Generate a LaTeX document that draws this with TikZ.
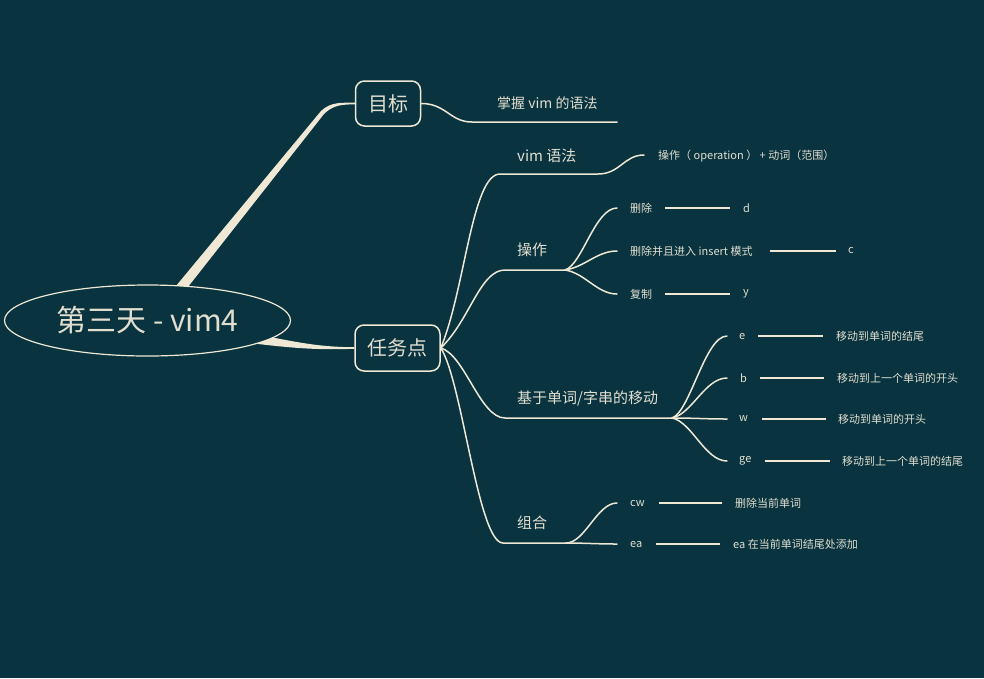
\documentclass[tikz,border=0pt]{standalone}
\usepackage{fontspec}
\setmainfont{Noto Sans CJK SC}
\usetikzlibrary{shapes.geometric,calc}
\pgfdeclarelayer{back}
\pgfsetlayers{back,main}
\definecolor{bgc}{HTML}{08333F}
\definecolor{lnc}{HTML}{EEE8D5}
\definecolor{txc}{HTML}{E2DFD0}
\begin{document}
\begin{tikzpicture}[x=1pt,y=-1pt,
  conn/.style={draw=lnc,line width=1.5pt,line cap=round},
  valline/.style={draw=lnc,line width=1.6pt},
  small/.style={text=txc,anchor=west,inner sep=0pt,font=\fontsize{11}{13}\selectfont},
  midl/.style={text=txc,anchor=west,inner sep=0pt,font=\fontsize{15}{17}\selectfont},
  topic/.style={draw=lnc,line width=1.5pt,rounded corners=9pt,fill=bgc,text=txc,font=\fontsize{20}{23}\selectfont,inner sep=0pt},
  rootn/.style={ellipse,draw=lnc,line width=1.2pt,fill=bgc,text=txc,font=\fontsize{30}{34}\selectfont,inner sep=0pt,minimum width=286pt,minimum height=71pt}]

\useasboundingbox (0,0) rectangle (984,678);

% main nodes
\node[rootn] (root) at (147.5,320.5) {第三天 - vim4};
\node[topic,minimum width=65pt,minimum height=45pt] (goal) at (388,103.5) {目标};
\node[topic,minimum width=85pt,minimum height=46pt] (task) at (397.5,348) {任务点};

% labels
\node[midl,font=\fontsize{14}{16}\selectfont] (goalt) at (497,103) {掌握 vim 的语法};
\node[midl] (vimt) at (517,156) {vim 语法};
\node[small] (vimd) at (658,156) {操作（ operation ） + 动词（范围）};
\node[midl] (opt) at (517,250) {操作};
\node[small] (d1) at (630,208) {删除};
\node[small] (d2) at (630,251) {删除并且进入 insert 模式};
\node[small] (d3) at (630,294) {复制};
\node[small] (v1) at (743,208) {d};
\node[small] (v2) at (848,251) {c};
\node[small] (v3) at (743,294) {y};
\node[midl] (movt) at (517,398) {基于单词/字串的移动};
\node[small] (m1) at (739,336) {e};
\node[small] (m2) at (740,378) {b};
\node[small] (m3) at (739,419) {w};
\node[small] (m4) at (739,461) {ge};
\node[small] (n1) at (836,336) {移动到单词的结尾};
\node[small] (n2) at (837,378) {移动到上一个单词的开头};
\node[small] (n3) at (838,419) {移动到单词的开头};
\node[small] (n4) at (842,461) {移动到上一个单词的结尾};
\node[midl] (comt) at (517,523) {组合};
\node[small] (c1) at (630,503) {cw};
\node[small] (c2) at (630,544) {ea};
\node[small] (k1) at (735,503) {删除当前单词};
\node[small] (k2) at (733,544) {ea 在当前单词结尾处添加};

% coordinates
\coordinate (gs) at (472,122); \coordinate (ge) at (617,122);
\coordinate (vs) at (500,174); \coordinate (ve) at (598,174); \coordinate (vd) at (644,155);
\coordinate (os) at (505,270); \coordinate (oe) at (565,270);
\coordinate (o1) at (617,208); \coordinate (o2) at (617,251); \coordinate (o3) at (617,294);
\coordinate (ms) at (505,418); \coordinate (me) at (672,418);
\coordinate (p1) at (727,336); \coordinate (p2) at (727,378); \coordinate (p3) at (727,419); \coordinate (p4) at (727,461);
\coordinate (cs) at (503,543); \coordinate (ce) at (566,543);
\coordinate (q1) at (617,503); \coordinate (q2) at (617,544);

\begin{pgfonlayer}{back}
\fill[bgc] (0,0) rectangle (984,678);
% tapered main branches
\fill[lnc] (171,292) -- (321,111) .. controls (331,101.5) and (342,102.8) .. ([yshift=0.8pt]goal.west)
  -- ([yshift=-0.8pt]goal.west) .. controls (342,104.5) and (333,105) .. (324,114) -- (184,292) -- cycle;
\fill[lnc] (250,333) .. controls (300,343) and (320,347) .. ([yshift=0.8pt]task.west)
  -- ([yshift=-0.8pt]task.west) .. controls (318,350) and (295,348.5) .. (250,343) -- cycle;
\end{pgfonlayer}

% branches
\draw[conn] (goal.east) .. controls (446,103.5) and (450,122) .. (gs) -- (ge);
\draw[conn] (task.east) .. controls (465,290) and (472,174) .. (vs) -- (ve) .. controls (620,174) and (624,155) .. (vd);
\draw[conn] (task.east) .. controls (470,320) and (480,270) .. (os) -- (oe);
\draw[conn] (oe) .. controls (582,265) and (595,208) .. (o1);
\draw[conn] (oe) .. controls (585,267) and (597,251) .. (o2);
\draw[conn] (oe) .. controls (585,273) and (597,294) .. (o3);
\draw[conn] (task.east) .. controls (465,355) and (480,418) .. (ms) -- (me);
\draw[conn] (me) .. controls (690,412) and (705,336) .. (p1);
\draw[conn] (me) .. controls (692,414) and (705,378) .. (p2);
\draw[conn] (me) .. controls (695,418) and (705,419) .. (p3);
\draw[conn] (me) .. controls (692,422) and (705,461) .. (p4);
\draw[conn] (task.east) .. controls (462,380) and (478,543) .. (cs) -- (ce);
\draw[conn] (ce) .. controls (585,543) and (597,503) .. (q1);
\draw[conn] (ce) .. controls (585,543) and (597,544) .. (q2);

% value lines
\draw[valline] ([xshift=13pt]d1.east) -- ([xshift=-13pt]v1.west);
\draw[valline] ([xshift=17pt]d2.east) -- ([xshift=-12pt]v2.west);
\draw[valline] ([xshift=13pt]d3.east) -- ([xshift=-13pt]v3.west);
\draw[valline] ([xshift=12pt]m1.east) -- ([xshift=-13pt]n1.west);
\draw[valline] ([xshift=13pt]m2.east) -- ([xshift=-13pt]n2.west);
\draw[valline] ([xshift=14pt]m3.east) -- ([xshift=-12pt]n3.west);
\draw[valline] ([xshift=13pt]m4.east) -- ([xshift=-12pt]n4.west);
\draw[valline] ([xshift=14pt]c1.east) -- ([xshift=-13pt]k1.west);
\draw[valline] ([xshift=13pt]c2.east) -- ([xshift=-13pt]k2.west);
\end{tikzpicture}
\end{document}
